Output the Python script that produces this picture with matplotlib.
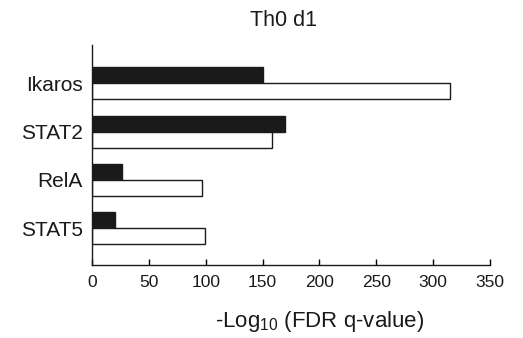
import matplotlib
matplotlib.use("Agg")
import matplotlib.pyplot as plt
import numpy as np

plt.rcParams['font.family'] = ['Liberation Sans', 'DejaVu Sans']

categories = ["Ikaros", "STAT2", "RelA", "STAT5"]
series_black = [150, 170, 26, 20]
series_white = [315, 158, 97, 99]
x_ticks = [0, 50, 100, 150, 200, 250, 300, 350]

fig = plt.figure(figsize=(5.23, 3.38), dpi=100)
W, H = 523, 338
ax = fig.add_axes([92 / W, (H - 265) / H, (490 - 92) / W, (265 - 45) / H])

pos = np.arange(len(categories))
h = 0.33
ax.barh(pos - h / 2, series_black, height=h, color="#1a1a1a",
        edgecolor="#1a1a1a", linewidth=1)
ax.barh(pos + h / 2, series_white, height=h, color="white",
        edgecolor="#1a1a1a", linewidth=1)

ax.set_xlim(0, 350)
ax.set_ylim(3.76, -0.79)
ax.set_xticks(x_ticks)
ax.set_xticklabels([str(t) for t in x_ticks], fontsize=12.5, color="#1a1a1a")
ax.set_yticks(pos)
ax.set_yticklabels(categories, fontsize=15, color="#1a1a1a")
ax.tick_params(axis="x", direction="in", length=4, width=1, pad=7)
ax.tick_params(axis="y", length=0, pad=6.5)
for s in ("top", "right"):
    ax.spines[s].set_visible(False)
for s in ("left", "bottom"):
    ax.spines[s].set_linewidth(1)
    ax.spines[s].set_color("#1a1a1a")

ax.set_title("Th0 d1", fontsize=15.5, color="#1a1a1a", pad=14, x=0.482)
ax.set_xlabel(r"-Log$_{\mathregular{10}}$ (FDR q-value)", fontsize=16,
              color="#1a1a1a", labelpad=12)
ax.xaxis.set_label_coords(0.573, -0.2)
ax.xaxis.label.set_verticalalignment("top")

fig.savefig("out.png", dpi=100)
